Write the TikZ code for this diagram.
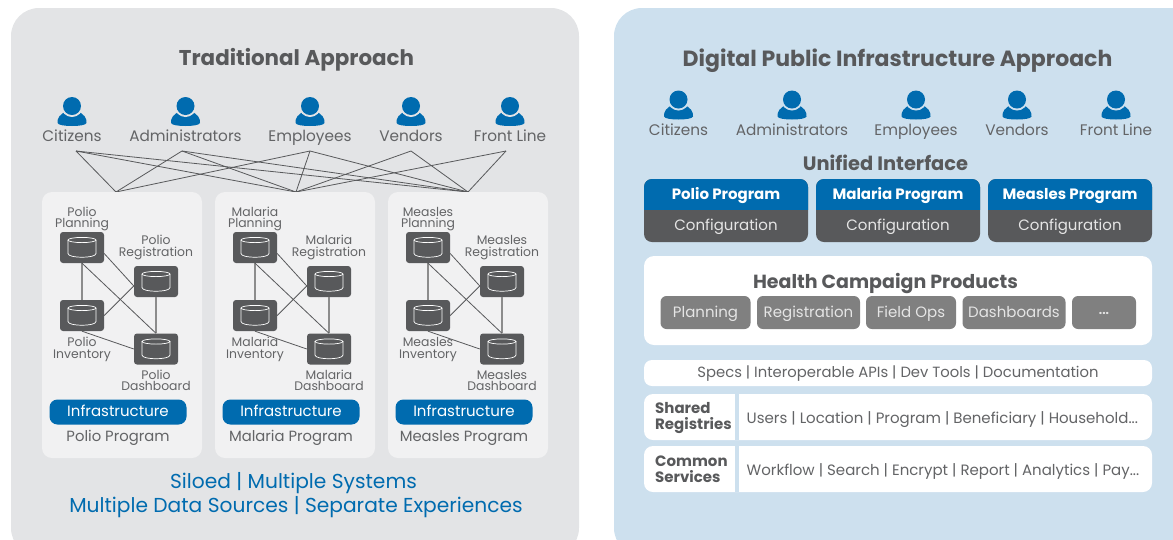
\documentclass[tikz,border=0pt]{standalone}
\usepackage{fontspec}
\setmainfont{Poppins}
\definecolor{leftbg}{HTML}{E3E4E6}
\definecolor{rightbg}{HTML}{CDE0EE}
\definecolor{pane}{HTML}{F1F1F2}
\definecolor{blu}{HTML}{006BAF}
\definecolor{dark}{HTML}{58595B}
\definecolor{midg}{HTML}{808080}
\definecolor{txt}{HTML}{636466}
\tikzset{
  tx/.style={text=txt,align=center,anchor=base,inner sep=0pt,font=\fontsize{#1}{#1}\selectfont},
  tx/.default=15,
  bt/.style={text=dark,anchor=base,inner sep=0pt,font=\fontsize{#1}{#1}\selectfont\bfseries},
  lab/.style={text=txt,anchor=base,inner sep=0pt,font=\fontsize{12.4}{12.4}\selectfont},
  conn/.style={draw=dark,line width=.8pt},
  vconn/.style={draw=gray!90,line width=1.5pt},
  dbbox/.style={fill=dark,rounded corners=3pt,minimum width=44pt,minimum height=31pt,inner sep=0pt},
}
\newcommand{\person}[3]{%
  \begin{scope}[shift={(#1,#2)}]
    \fill[blu] (-14.5,17) .. controls (-15,12) and (-12,8) .. (-5,5) -- (5,5) .. controls (12,8) and (15,12) .. (14.5,17) .. controls (14,21) and (-14,21) .. (-14.5,17) -- cycle;
    \fill[#3] (0,0) circle (11);
    \fill[blu] (0,0) circle (9);
  \end{scope}}
\newcommand{\cyl}[1]{%
  \begin{scope}[shift={(#1)}]
    \draw[white,line width=.7pt,fill=dark] (-14,-7.5) -- (-14,6) .. controls (-14,11) and (14,11) .. (14,6) -- (14,-7.5);
    \draw[white,line width=.7pt] (0,-7.5) ellipse (14 and 2.6);
  \end{scope}}
\newcommand{\program}[2]{%
  \begin{scope}[shift={(#1,0)}]
    \fill[pane,rounded corners=10pt] (42,192) rectangle (202,458);
    \node[dbbox] (#2p) at (82,247.5) {};
    \node[dbbox] (#2r) at (156,281.5) {};
    \node[dbbox] (#2i) at (82,315.5) {};
    \node[dbbox] (#2d) at (156,349) {};
    \draw[vconn] (#2p) -- (#2i);
    \draw[vconn] (#2r) -- (#2d);
    \draw[conn] ([yshift=-6pt]#2p.east) -- ([yshift=-4.5pt]#2r.west);
    \draw[conn] (#2p.south) -- (#2d.north);
    \draw[conn] (#2i.east) -- ([yshift=-4.5pt]#2r.west);
    \draw[conn] (#2i.south) -- (#2d.west);
    \cyl{82,247.5}\cyl{156,281.5}\cyl{82,315.5}\cyl{156,349}
    \node[lab] (#2l1) at (82,216) {#2};
    \node[lab] (#2l2) at (82,227) {Planning};
    \node[lab] (#2l3) at (156,244.5) {#2};
    \node[lab] (#2l4) at (156,256.5) {Registration};
    \node[lab] (#2l5) at (82,346.5) {#2};
    \node[lab] (#2l6) at (82,358) {Inventory};
    \node[lab] (#2l7) at (156,379) {#2};
    \node[lab] (#2l8) at (156,390.5) {Dashboard};
    \node[fill=blu,rounded corners=8pt,minimum width=137pt,minimum height=25pt,inner sep=0pt] (#2inf) at (118,412) {};
    \node[anchor=base,text=white,inner sep=0pt,font=\fontsize{15}{15}\selectfont] (#2il) at (118,416.7) {Infrastructure};
    \node[tx=14.8] (#2name) at (118,441) {#2 Program};
  \end{scope}}
\newcommand{\prog}[2]{%
  \begin{scope}[shift={(#1,0)}]
    \fill[dark,rounded corners=8pt] (0,179) rectangle (164,242);
    \begin{scope}
      \clip (0,179) rectangle (164,209.5);
      \fill[blu,rounded corners=8pt] (0,179) rectangle (164,242);
    \end{scope}
    \node[anchor=base,text=white,inner sep=0pt,font=\fontsize{15}{15}\selectfont\bfseries] (#2t) at (82,199.5) {#2 Program};
    \node[anchor=base,text=white!90!black,inner sep=0pt,font=\fontsize{15}{15}\selectfont] (#2c) at (82,230) {Configuration};
  \end{scope}}
\newcommand{\gbtn}[4]{%
  \node[fill=midg,rounded corners=6pt,minimum width=#2pt,minimum height=33pt,inner sep=0pt] (#4) at (#1,312.5) {};
  \node[anchor=base,text=white!90!black,inner sep=0pt,font=\fontsize{15}{15}\selectfont] (#4l) at (#1,317.3) {#3};}
\begin{document}
\begin{tikzpicture}[x=1pt,y=-1pt]
\useasboundingbox (0,0) rectangle (1173,539);
\fill[leftbg,rounded corners=28pt] (11,8) rectangle (579,556);
\fill[rightbg,rounded corners=28pt] (614,8) rectangle (1200,556);
\node[bt=21.4] (t1) at (296.5,65.5) {Traditional Approach};
\node[bt=22] (t2) at (897.5,66) {Digital Public Infrastructure Approach};
% users left
\foreach \n/\x/\t in {a/72/Citizens,b/185.5/Administrators,c/310/Employees,d/411/Vendors,e/510/Front Line}{
  \person{\x}{106}{leftbg}
  \node[tx=15.3] (\n) at (\x,141) {\t};
}
\foreach \n/\x in {a/76,b/182,c/310,d/411,e/506}{\coordinate (top\n) at (\x,151);}
\foreach \n/\x in {p/116,q/296,r/468}{\coordinate (bot\n) at (\x,192);}
\foreach \n in {a,b,c}{\draw[conn] (top\n) -- (botp);}
\foreach \n in {a,b,c,d,e}{\foreach \m in {q,r}{\draw[conn] (top\n) -- (bot\m);}}
\program{0}{Polio}
\program{173}{Malaria}
\program{346}{Measles}
\node[anchor=base,text=blu,inner sep=0pt,font=\fontsize{20.2}{20.2}\selectfont] (sil1) at (293.5,488) {Siloed | Multiple Systems};
\node[anchor=base,text=blu,inner sep=0pt,font=\fontsize{20.2}{20.2}\selectfont] (sil2) at (296,512) {Multiple Data Sources | Separate Experiences};
% right users
\foreach \n/\x/\t in {f/678.5/Citizens,g/792/Administrators,h/916/Employees,i/1017/Vendors,j/1116/Front Line}{
  \person{\x}{99.5}{rightbg}
  \node[tx=15.3] (\n) at (\x,135) {\t};
}
\node[bt=19.4] (ui) at (885.5,170) {Unified Interface};
\prog{644}{Polio}
\prog{816}{Malaria}
\prog{988}{Measles}
\fill[white,rounded corners=10pt] (644,256) rectangle (1152,345);
\node[bt=19] (hc) at (885.5,288) {Health Campaign Products};
\gbtn{705.5}{90}{Planning}{bpl}
\gbtn{808.5}{103}{Registration}{bre}
\gbtn{911}{90}{Field Ops}{bfo}
\gbtn{1014}{103}{Dashboards}{bda}
\gbtn{1104}{64}{\raisebox{2.5pt}{\bfseries\fontsize{12}{12}\selectfont ...}}{bel}
\fill[white,rounded corners=8pt] (644,360) rectangle (1152,386);
\node[tx=14.8] (sp) at (898,377) {Specs | Interoperable APIs | Dev Tools | Documentation};
\fill[white,rounded corners=9pt] (644,394) rectangle (1152,440);
\fill[white,rounded corners=9pt] (644,446) rectangle (1152,492);
\fill[rightbg] (735,394) rectangle (738.5,440);
\fill[rightbg] (735,446) rectangle (738.5,492);
\node[bt=15,anchor=base west] (sr1) at (655,413) {Shared};
\node[bt=15,anchor=base west] (sr2) at (655,429) {Registries};
\node[bt=15,anchor=base west] (cs1) at (655,466) {Common};
\node[bt=15,anchor=base west] (cs2) at (655,482.5) {Services};
\node[tx=15,anchor=base west] (srt) at (746.5,423) {Users | Location | Program | Beneficiary | Household...};
\node[tx=15,anchor=base west] (cst) at (746.5,475) {Workflow | Search | Encrypt | Report | Analytics | Pay...};
\end{tikzpicture}
\end{document}
